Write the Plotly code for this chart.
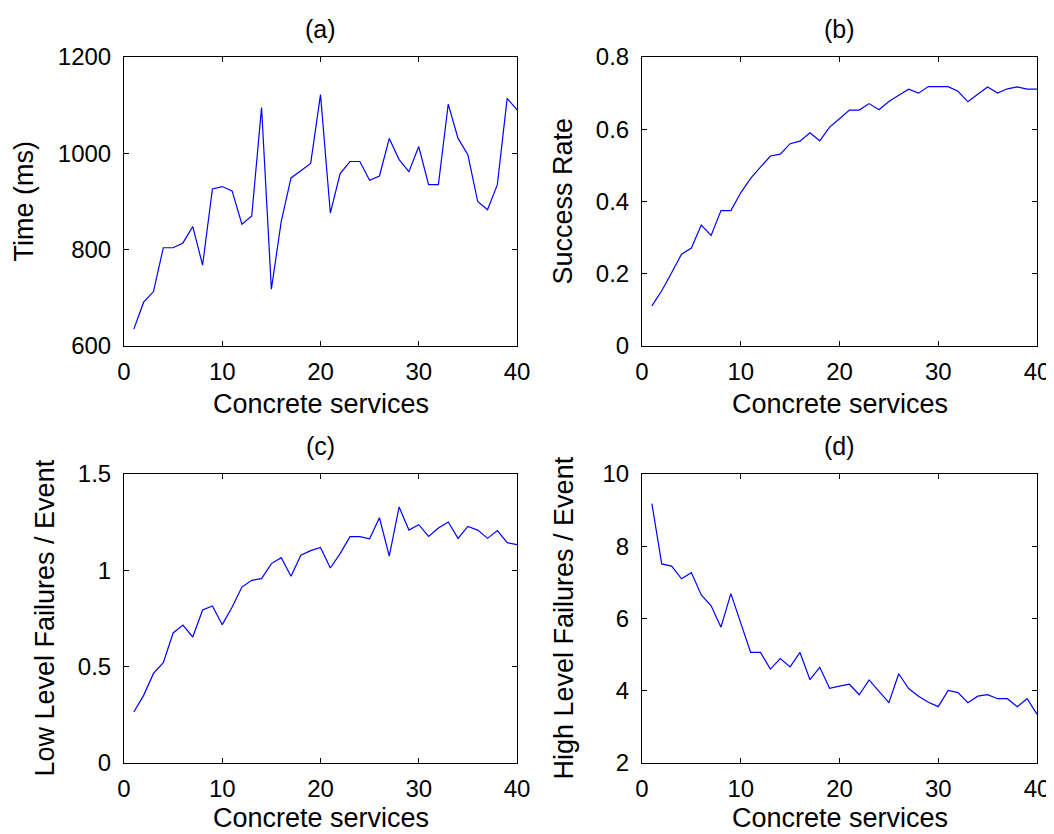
import plotly.graph_objects as go
from plotly.subplots import make_subplots

services = list(range(1, 41))

time_ms = [635, 691, 713, 804, 804, 814, 848, 768, 926, 931,
           922, 853, 870, 1095, 718, 858, 949, 964, 979, 1122,
           876, 958, 983, 983, 944, 953, 1031, 987, 962, 1014,
           935, 935, 1102, 1031, 997, 900, 883, 935, 1114, 1090]

success_rate = [0.111, 0.153, 0.203, 0.254, 0.271, 0.335, 0.306, 0.375, 0.375, 0.424,
                0.464, 0.494, 0.526, 0.531, 0.560, 0.567, 0.590, 0.568, 0.606, 0.629,
                0.653, 0.653, 0.671, 0.654, 0.677, 0.694, 0.711, 0.700, 0.718, 0.718,
                0.718, 0.705, 0.676, 0.697, 0.717, 0.700, 0.712, 0.717, 0.711, 0.711]

low_fail = [0.265, 0.351, 0.465, 0.521, 0.675, 0.716, 0.654, 0.794, 0.815, 0.718,
            0.808, 0.913, 0.948, 0.957, 1.035, 1.066, 0.969, 1.078, 1.102, 1.119,
            1.012, 1.087, 1.175, 1.175, 1.164, 1.273, 1.074, 1.329, 1.209, 1.237,
            1.176, 1.220, 1.251, 1.166, 1.228, 1.209, 1.166, 1.206, 1.144, 1.133]

high_fail = [9.18, 7.51, 7.45, 7.10, 7.27, 6.65, 6.35, 5.76, 6.69, 5.85,
             5.06, 5.06, 4.60, 4.89, 4.66, 5.06, 4.31, 4.65, 4.07, 4.13,
             4.18, 3.89, 4.30, 3.98, 3.67, 4.47, 4.06, 3.85, 3.68, 3.56,
             4.01, 3.95, 3.67, 3.85, 3.89, 3.78, 3.78, 3.56, 3.78, 3.35]

panel_titles = ["(a)", "(b)", "(c)", "(d)"]
y_titles = ["Time (ms)", "Success Rate", "Low Level Failures / Event", "High Level Failures / Event"]
x_title = "Concrete services"
y_ranges = [[600, 1200], [0, 0.8], [0, 1.5], [2, 10]]
y_ticks = [[600, 800, 1000, 1200], [0, 0.2, 0.4, 0.6, 0.8], [0, 0.5, 1, 1.5], [2, 4, 6, 8, 10]]
x_ticks = [0, 10, 20, 30, 40]

FONT = "Liberation Sans, Arial, sans-serif"
PAGE_W, PAGE_H = 1054, 834
OFF = 8  # default body margin of the html page
W, H = PAGE_W - OFF, PAGE_H - OFF


def fx(px):
    return (px - OFF) / W


def fy(py):
    return 1 - (py - OFF) / H


fig = make_subplots(rows=2, cols=2)

series = [time_ms, success_rate, low_fail, high_fail]
pos = [(1, 1), (1, 2), (2, 1), (2, 2)]

# page-pixel boxes (left, right, top, bottom)
boxes = [(124, 517, 57, 346), (642, 1037, 57, 346),
         (124, 517, 474, 763), (642, 1037, 474, 763)]

for i, (ys, (r, c)) in enumerate(zip(series, pos)):
    fig.add_trace(go.Scatter(x=services, y=ys, mode="lines",
                             line=dict(color="#0000ff", width=1.2),
                             showlegend=False), row=r, col=c)

annotations = []
for i, (r, c) in enumerate(pos):
    l, rt, t, b = boxes[i]
    axis_common = dict(showline=True, linecolor="black", linewidth=1, mirror="ticks",
                       ticks="inside", ticklen=5, tickcolor="black", showgrid=False,
                       zeroline=False, automargin=False, ticklabeloverflow="allow",
                       tickfont=dict(family=FONT, size=24, color="black"))
    fig.update_xaxes(domain=[fx(l), fx(rt)], range=[0, 40], tickvals=x_ticks,
                     ticklabelstandoff=4, **axis_common, row=r, col=c)
    fig.update_yaxes(domain=[fy(b), fy(t)], range=y_ranges[i], tickvals=y_ticks[i],
                     ticklabelstandoff=7, **axis_common, row=r, col=c)
    cx = (l + rt) / 2
    cy = (t + b) / 2
    annotations.append(dict(text=panel_titles[i], x=fx(cx), y=fy(t - 28),
                            xref="paper", yref="paper", showarrow=False,
                            font=dict(family=FONT, size=25, color="black"),
                            xanchor="center", yanchor="middle"))
    if r == 1:
        annotations.append(dict(text=x_title, x=fx(cx), y=fy(b + 58),
                                xref="paper", yref="paper", showarrow=False,
                                font=dict(family=FONT, size=27, color="black"),
                                xanchor="center", yanchor="middle"))
    else:
        annotations.append(dict(text=x_title, x=fx(cx), y=0,
                                xref="paper", yref="paper", showarrow=False,
                                font=dict(family=FONT, size=27, color="black"),
                                xanchor="center", yanchor="bottom", borderpad=0))
    ytx = [24, 563, 44, 563][i]
    annotations.append(dict(text=y_titles[i], x=fx(ytx), y=fy(cy),
                            xref="paper", yref="paper", showarrow=False, textangle=-90,
                            font=dict(family=FONT, size=27, color="black"),
                            xanchor="center", yanchor="middle"))

fig.update_layout(width=W, height=H, margin=dict(l=0, r=0, t=0, b=0),
                  paper_bgcolor="white", plot_bgcolor="white",
                  annotations=annotations, showlegend=False)

fig.write_html("out.html")
